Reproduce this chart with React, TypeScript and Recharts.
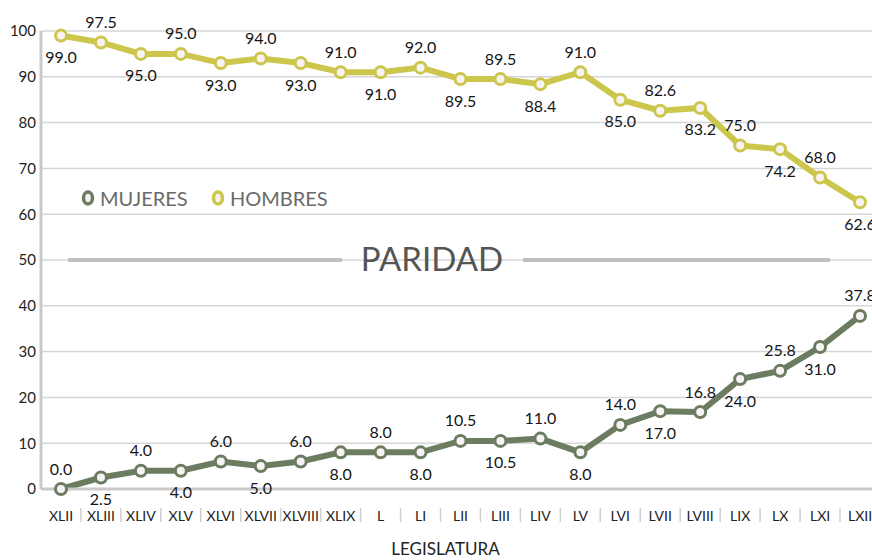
import React from 'react';
import { LineChart, Line, XAxis, YAxis, CartesianGrid, LabelList, ReferenceLine } from 'recharts';

const categories = ['XLII', 'XLIII', 'XLIV', 'XLV', 'XLVI', 'XLVII', 'XLVIII', 'XLIX', 'L', 'LI', 'LII', 'LIII', 'LIV', 'LV', 'LVI', 'LVII', 'LVIII', 'LIX', 'LX', 'LXI', 'LXII'];
const hombres = [99.0, 97.5, 95.0, 95.0, 93.0, 94.0, 93.0, 91.0, 91.0, 92.0, 89.5, 89.5, 88.4, 91.0, 85.0, 82.6, 83.2, 75.0, 74.2, 68.0, 62.6];
const mujeres = [0.0, 2.5, 4.0, 4.0, 6.0, 5.0, 6.0, 8.0, 8.0, 8.0, 10.5, 10.5, 11.0, 8.0, 14.0, 17.0, 16.8, 24.0, 25.8, 31.0, 37.8];
const yTicks = [0, 10, 20, 30, 40, 50, 60, 70, 80, 90, 100];

const data = categories.map((c, i) => ({ cat: c, hombres: hombres[i], mujeres: mujeres[i] }));

const FONT = 'Lato, "Open Sans", sans-serif';
const H_COLOR = '#cdc64c';
const M_COLOR = '#6c7c61';
const DOT_FILL = '#f7f3f5';
const AXIS = '#c9c9c9';

const makeLabel = (abovePred: (i: number) => boolean) => (props: any) => {
  const { x, y, value, index } = props;
  const above = abovePred(index);
  return (
    <text
      x={x}
      y={above ? y - 21 : y + 21}
      textAnchor="middle"
      dominantBaseline="central"
      fontFamily={FONT}
      fontSize={16}
      fill="#151515"
    >
      {Number(value).toFixed(1)}
    </text>
  );
};

const XTick = (props: any) => {
  const { x, y, payload, index } = props;
  const half = 20;
  return (
    <g>
      {index > 0 && (
        <line x1={x - half} x2={x - half} y1={y + 19} y2={y + 33} stroke="#cfcfcf" strokeWidth={1.5} />
      )}
      <text x={x} y={y + 32} textAnchor="middle" fontFamily={FONT} fontSize={14} fill="#222">
        {payload.value}
      </text>
    </g>
  );
};

const ParidadShape = (props: any) => {
  const { x1, y1 } = props;
  const y = y1;
  return (
    <g>
      <line x1={x1 + 27} x2={x1 + 301} y1={y} y2={y} stroke="#c0c0c0" strokeWidth={4} />
      <text x={x1 + 391} y={y + 11} textAnchor="middle" fontFamily={FONT} fontSize={33} fill="#555">
        PARIDAD
      </text>
      <line x1={x1 + 482} x2={x1 + 789} y1={y} y2={y} stroke="#c0c0c0" strokeWidth={4} />
    </g>
  );
};

const LegendItem = ({ color, label, left }: { color: string; label: string; left: number }) => (
  <div style={{ position: 'absolute', left, top: 186, display: 'flex', alignItems: 'center', fontFamily: FONT, fontSize: 20, color: '#6a6a6a', whiteSpace: 'nowrap' }}>
    <svg width={14} height={20} style={{ marginRight: 5 }}>
      <ellipse cx={7} cy={10} rx={4.5} ry={6} fill={DOT_FILL} stroke={color} strokeWidth={3.5} />
    </svg>
    <span>{label}</span>
  </div>
);

export default function App() {
  return (
    <div style={{ position: 'absolute', left: 0, top: 0, width: 872, height: 560, overflow: 'hidden', background: '#fff' }}>
      <LineChart width={880} height={560} data={data} margin={{ top: 31, right: 0, bottom: 0, left: 0 }}>
        <CartesianGrid horizontal vertical={false} stroke="#d6d6d6" strokeWidth={1.5} />
        <XAxis
          dataKey="cat"
          height={71}
          padding={{ left: 20, right: 20 }}
          tickLine={false}
          tickSize={0}
          tickMargin={0}
          axisLine={{ stroke: AXIS, strokeWidth: 3 }}
          interval={0}
          tick={<XTick />}
          label={{
            content: (p: any) => {
              const vb = p.viewBox || { x: 41, y: 489, width: 839 };
              return (
                <text x={vb.x + vb.width / 2 - 15} y={vb.y + 66} textAnchor="middle" fontFamily={FONT} fontSize={17} fill="#222">
                  LEGISLATURA
                </text>
              );
            },
          }}
        />
        <YAxis
          width={41}
          domain={[0, 100]}
          ticks={yTicks}
          interval={0}
          tickLine={false}
          tickSize={3}
          tickMargin={2}
          axisLine={{ stroke: AXIS, strokeWidth: 3 }}
          tick={{ fontFamily: FONT, fontSize: 15, fill: '#222' }}
        />
        <ReferenceLine y={50} shape={<ParidadShape />} />
        <Line
          type="linear"
          dataKey="mujeres"
          stroke={M_COLOR}
          strokeWidth={6}
          isAnimationActive={false}
          dot={{ r: 5.5, fill: DOT_FILL, stroke: M_COLOR, strokeWidth: 3 }}
        >
          <LabelList dataKey="mujeres" content={makeLabel((i) => i % 2 === 0)} />
        </Line>
        <Line
          type="linear"
          dataKey="hombres"
          stroke={H_COLOR}
          strokeWidth={6}
          isAnimationActive={false}
          dot={{ r: 5.5, fill: DOT_FILL, stroke: H_COLOR, strokeWidth: 3 }}
        >
          <LabelList dataKey="hombres" content={makeLabel((i) => i % 2 === 1)} />
        </Line>
      </LineChart>
      <LegendItem color={M_COLOR} label="MUJERES" left={81} />
      <LegendItem color={H_COLOR} label="HOMBRES" left={211} />
    </div>
  );
}
